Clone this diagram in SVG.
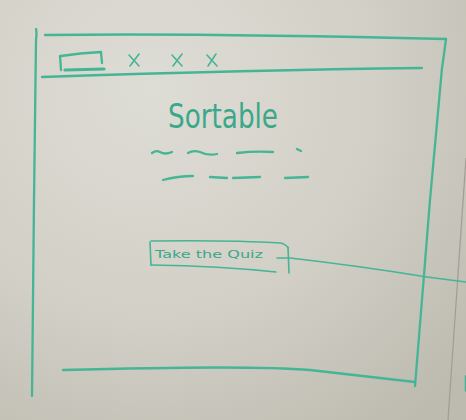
<svg xmlns="http://www.w3.org/2000/svg" width="466" height="420" viewBox="0 0 466 420">
  <defs>
    <radialGradient id="board" cx="150" cy="90" r="420" gradientUnits="userSpaceOnUse">
      <stop offset="0" stop-color="#deddd5"/>
      <stop offset="0.55" stop-color="#d2cfc6"/>
      <stop offset="1" stop-color="#bdbab0"/>
    </radialGradient>
    <style>
      .ink { fill: none; stroke: #45b595; stroke-width: 2.3; stroke-linecap: round; stroke-linejoin: round; }
      .thick { stroke-width: 3.2; }
      .fine { stroke-width: 1.6; }
      .hand { fill: #3aa88a; font-family: "DejaVu Sans", "Liberation Sans", sans-serif; }
    </style>
  </defs>

  <!-- whiteboard surface -->
  <rect x="0" y="0" width="466" height="420" fill="url(#board)"/>
  <!-- board edge on the right -->
  <path d="M466 158 L448 420" fill="none" stroke="#a19d95" stroke-width="1.2"/>
  <path d="M465.5 376 L465.5 391" class="ink fine"/>

  <!-- browser window frame -->
  <g id="window">
    <path class="ink" d="M36 29 Q37 32 36 40 L34 200 L32 396"/>
    <path class="ink" d="M45 35 Q200 33 446 39"/>
    <path class="ink" d="M446 39 Q444 55 442 68 L430 200 L424 275 L415 386"/>
    <path class="ink" d="M63 370 Q250 365 310 370 L415 382"/>
  </g>

  <!-- toolbar -->
  <g id="toolbar">
    <path class="ink" d="M42 77 Q250 70 422 68"/>
    <path class="ink" d="M60 56 L61 70"/>
    <path class="ink" d="M61 56 Q80 53 101 52 L102 63"/>
    <path class="ink thick" d="M65 70 L104 69"/>
    <path class="ink fine" d="M129 55 L139 66 M139 54 L130 66"/>
    <path class="ink fine" d="M172 55 L182 66 M182 54 L173 66"/>
    <path class="ink fine" d="M207 55 L217 66 M216 54 L208 66"/>
  </g>

  <!-- page title -->
  <g id="title">
    <text class="hand" x="168" y="128" font-size="33" textLength="110" lengthAdjust="spacingAndGlyphs">Sortable</text>
  </g>

  <!-- placeholder text lines -->
  <g id="text-lines">
    <path class="ink" d="M152 153 Q156 150 160 152 Q165 155 172 152"/>
    <path class="ink" d="M188 153 Q193 150 200 152 Q208 156 217 154"/>
    <path class="ink" d="M237 153 Q255 151 273 152"/>
    <path class="ink" d="M297 149 L301 151"/>
    <path class="ink" d="M163 180 Q178 176 193 176"/>
    <path class="ink" d="M210 177 L227 178"/>
    <path class="ink" d="M233 178 L260 177"/>
    <path class="ink" d="M285 178 L308 177"/>
  </g>

  <!-- call-to-action button -->
  <g id="button">
    <path class="ink fine" d="M150 242 L151 265"/>
    <path class="ink fine" d="M151 241 Q230 240 281 243 Q287 245 288 248"/>
    <path class="ink fine" d="M151 265 Q220 266 276 272"/>
    <path class="ink fine" d="M288 247 L289 273"/>
    <text class="hand" x="155" y="258" font-size="11" textLength="108" lengthAdjust="spacingAndGlyphs">Take the Quiz</text>
  </g>

  <!-- link from the button off to the next screen -->
  <g id="connectors">
    <path class="ink fine" d="M277 258 L290 258 Q360 266 427 277 L466 282"/>
  </g>
</svg>
